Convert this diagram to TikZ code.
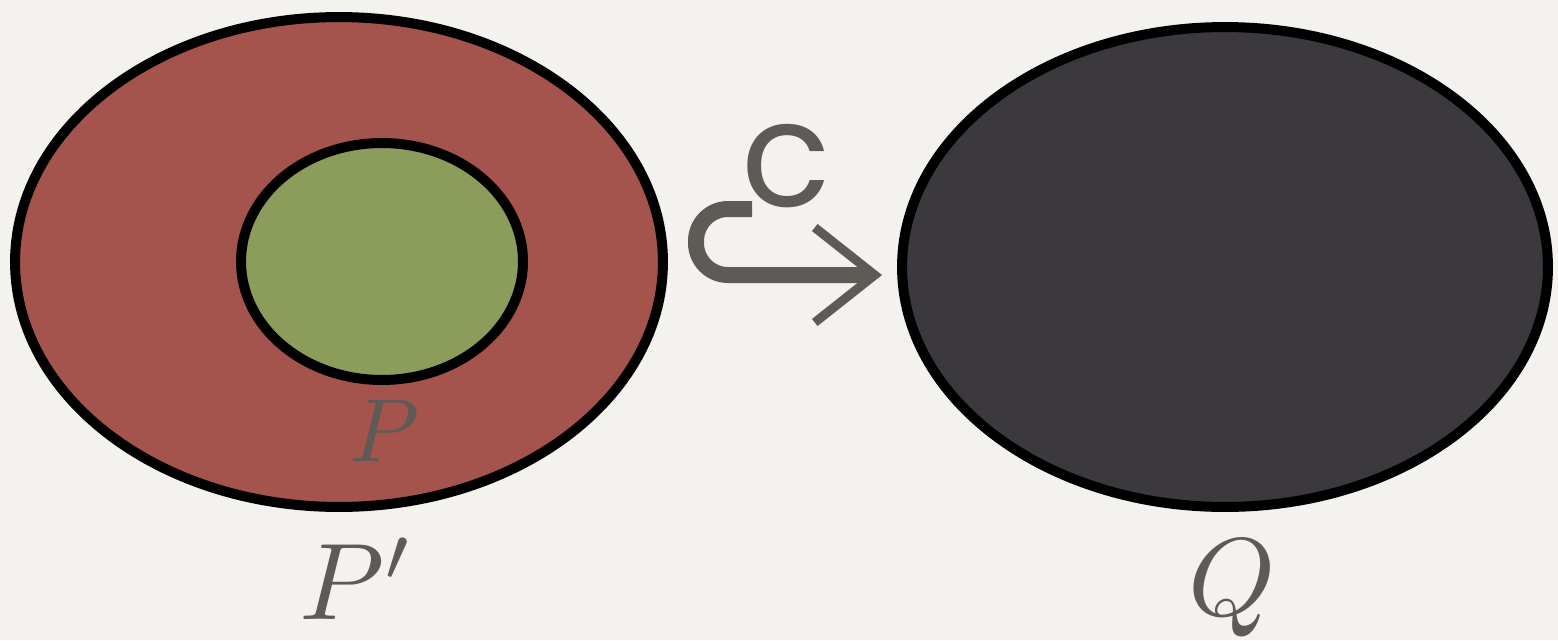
\documentclass[tikz,border=0pt]{standalone}
\usepackage{fontspec}
\newfontfamily\labelfont{Poppins}
\usetikzlibrary{shapes.geometric,arrows.meta}
\definecolor{bg}{HTML}{F3F2EF}
\definecolor{setred}{HTML}{A4544C}
\definecolor{setgreen}{HTML}{8B9C5B}
\definecolor{setdark}{HTML}{3B393E}
\definecolor{ink}{HTML}{5E5B56}
\tikzset{
  setshape/.style={ellipse, draw=black, line width=0.2cm, inner sep=0pt},
  mathlabel/.style={text=ink, inner sep=0pt},
  incl/.style={draw=ink, line width=0.32cm, rounded corners=0.64cm,
    -{Straight Barb[length=1.2cm, width=1.9cm, line width'=0.18cm]}}
}
\begin{document}
\begin{tikzpicture}[x=0.02cm,y=-0.02cm]
\fill[bg] (0,0) rectangle (1558,640);
\useasboundingbox (0,0) rectangle (1558,640);
\node[setshape, fill=setred, minimum width=12.96cm, minimum height=9.8cm] (Pp) at (339,262) {};
\node[setshape, fill=setgreen, minimum width=5.64cm, minimum height=4.74cm] (P) at (382,261.5) {};
\node[setshape, fill=setdark, minimum width=12.92cm, minimum height=9.6cm] (Q) at (1225,267) {};
\node[mathlabel, scale=5.1] (Plab) at (384,431) {$P$};
\node[mathlabel, scale=6.2] (Pplab) at (357,579) {$P'$};
\node[mathlabel, scale=6.3] (Qlab) at (1232,588) {$Q$};
\coordinate (hs) at (752,209);
\coordinate (tip) at (882,275);
\draw[incl] (hs) -- (696,209) -- (696,275) -- (tip);
\node[text=ink, inner sep=0pt, font=\labelfont\fontsize{84}{84}\selectfont] (c) at (786,166) {c};
\end{tikzpicture}
\end{document}
